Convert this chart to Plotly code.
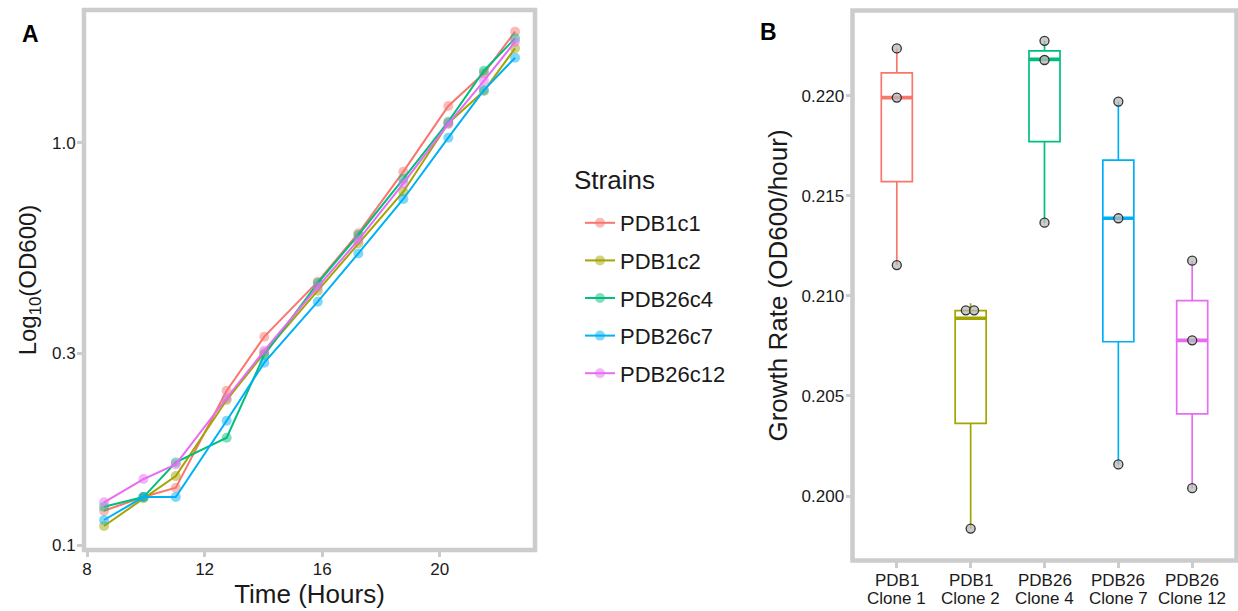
import plotly.graph_objects as go

# ---------------- Panel A data ----------------
time_hours = [8.58, 9.92, 11.02, 12.75, 14.03, 15.85, 17.23, 18.76, 20.29, 21.50, 22.56]
strains = ["PDB1c1", "PDB1c2", "PDB26c4", "PDB26c7", "PDB26c12"]
od_PDB1c1 = [0.1217, 0.1316, 0.1388, 0.2420, 0.3298, 0.4519, 0.5963, 0.8485, 1.236, 1.491, 1.892]
od_PDB1c2 = [0.1115, 0.1307, 0.1484, 0.2294, 0.3004, 0.4292, 0.5630, 0.7566, 1.120, 1.347, 1.720]
od_PDB26c4 = [0.1245, 0.1316, 0.1605, 0.1849, 0.2970, 0.4485, 0.5904, 0.8137, 1.130, 1.513, 1.821]
od_PDB26c7 = [0.1154, 0.1316, 0.1316, 0.2038, 0.2842, 0.4030, 0.5314, 0.7256, 1.031, 1.354, 1.630]
od_PDB26c12 = [0.1277, 0.1459, 0.1587, 0.2321, 0.3043, 0.4384, 0.5737, 0.7940, 1.115, 1.427, 1.786]
od_series = [od_PDB1c1, od_PDB1c2, od_PDB26c4, od_PDB26c7, od_PDB26c12]
colors = ["#F8766D", "#A3A500", "#00BF7D", "#00B0F6", "#E76BF3"]

x_ticks_A = [8, 12, 16, 20]
y_ticks_A = [0.1, 0.3, 1.0]
y_ticktext_A = ["0.1", "0.3", "1.0"]

# ---------------- Panel B data ----------------
clone_line1 = ["PDB1", "PDB1", "PDB26", "PDB26", "PDB26"]
clone_line2 = ["Clone 1", "Clone 2", "Clone 4", "Clone 7", "Clone 12"]
box_q1 = [0.21571, 0.20363, 0.21771, 0.20771, 0.20410]
box_median = [0.21991, 0.20888, 0.22182, 0.21388, 0.20778]
box_q3 = [0.22115, 0.20926, 0.22225, 0.21679, 0.20976]
box_lower = [0.21154, 0.19837, 0.21366, 0.20158, 0.20039]
box_upper = [0.22237, 0.20963, 0.22275, 0.21971, 0.21176]
point_group = [0, 0, 0, 1, 1, 1, 2, 2, 2, 3, 3, 3, 4, 4, 4]
point_rate = [0.22237, 0.21991, 0.21154,
              0.20928, 0.20928, 0.19837,
              0.22275, 0.22179, 0.21366,
              0.21971, 0.21388, 0.20158,
              0.21176, 0.20778, 0.20039]
point_jitter = [0, 0, 0, -0.065, 0.047, 0, 0, 0, 0, 0, 0, 0, 0, 0, 0]
y_ticks_B = [0.200, 0.205, 0.210, 0.215, 0.220]
y_ticktext_B = ["0.200", "0.205", "0.210", "0.215", "0.220"]

# ---------------- layout helpers ----------------
W, H = 1238, 611
FONT = "Liberation Sans, Arial, Helvetica, sans-serif"
BORDER = "#CCCCCC"
TXT = "#1a1a1a"


def dx(p):
    return p / W


def dy(p):
    return 1 - p / H


fig = go.Figure()

for name, ys, c in zip(strains, od_series, colors):
    fig.add_trace(go.Scatter(
        x=time_hours, y=ys, name=name, legendgroup=name,
        mode="lines+markers",
        line=dict(color=c, width=2),
        marker=dict(color=c, size=10, opacity=0.5),
        xaxis="x", yaxis="y",
    ))

BOX_W = 0.42
for i in range(len(clone_line1)):
    fig.add_trace(go.Box(
        x=[i], q1=[box_q1[i]], median=[box_median[i]], q3=[box_q3[i]],
        lowerfence=[box_lower[i]], upperfence=[box_upper[i]],
        orientation="v", width=BOX_W, boxpoints=False, whiskerwidth=0,
        line=dict(color=colors[i], width=1.7),
        fillcolor="rgba(255,255,255,0)",
        showlegend=False, xaxis="x2", yaxis="y2",
    ))
    fig.add_trace(go.Scatter(
        x=[i - BOX_W / 2, i + BOX_W / 2], y=[box_median[i], box_median[i]],
        mode="lines", line=dict(color=colors[i], width=3.6),
        showlegend=False, hoverinfo="skip", xaxis="x2", yaxis="y2",
    ))

fig.add_trace(go.Scatter(
    x=[g + j for g, j in zip(point_group, point_jitter)], y=point_rate,
    mode="markers",
    marker=dict(size=9, color="rgba(185,185,185,0.75)",
                line=dict(color="#333333", width=1.3)),
    showlegend=False, xaxis="x2", yaxis="y2",
))

tick_common = dict(ticks="outside", ticklen=6, tickwidth=2.5, tickcolor=BORDER,
                   showgrid=False, zeroline=False, showline=False,
                   tickfont=dict(family=FONT, size=17, color=TXT),
                   ticklabelstandoff=-2,
                   automargin=False)

fig.update_layout(
    width=W, height=H,
    margin=dict(l=0, r=0, t=0, b=0),
    paper_bgcolor="white", plot_bgcolor="white",
    font=dict(family=FONT, color=TXT),
    xaxis=dict(domain=[dx(84), dx(535)], range=[7.898, 23.238],
               tickvals=x_ticks_A, anchor="y",
               title=dict(text="Time (Hours)", font=dict(size=26, family=FONT, color=TXT), standoff=4),
               **tick_common),
    yaxis=dict(domain=[dy(550), dy(10)], type="log", range=[-1.0124, 0.3308],
               tickvals=y_ticks_A, ticktext=y_ticktext_A, anchor="x",
               title=dict(text="Log<sub>10</sub>(OD600)", font=dict(size=24, family=FONT, color=TXT), standoff=8),
               **tick_common),
    xaxis2=dict(domain=[dx(852.5), dx(1236.5)], range=[-0.6, 4.6],
                tickvals=list(range(len(clone_line1))), showticklabels=False,
                anchor="y2", **{k: v for k, v in tick_common.items() if k != "ticklabelstandoff"}),
    yaxis2=dict(domain=[dy(560.5), dy(10.5)], range=[0.196777, 0.224263],
                tickvals=y_ticks_B, ticktext=y_ticktext_B, anchor="x2",
                title=dict(text="Growth Rate (OD600/hour)", font=dict(size=26, family=FONT, color=TXT), standoff=6),
                **tick_common),
    legend=dict(x=dx(580), y=dy(202), xanchor="left", yanchor="top",
                font=dict(size=22, family=FONT, color=TXT),
                tracegroupgap=6, bgcolor="rgba(0,0,0,0)"),
    showlegend=True,
)

for xa, ya in (("x", "y"), ("x2", "y2")):
    fig.add_shape(type="rect", xref=f"{xa} domain", yref=f"{ya} domain",
                  x0=0, x1=1, y0=0, y1=1, line=dict(color=BORDER, width=4.5),
                  fillcolor="rgba(0,0,0,0)", layer="above")

# legend title
fig.add_annotation(text="Strains", x=dx(572), y=dy(180), xref="paper", yref="paper",
                   xanchor="left", yanchor="middle", showarrow=False,
                   font=dict(size=26, family=FONT, color=TXT))

# two-line category labels for panel B
for i in range(len(clone_line1)):
    fig.add_annotation(text=clone_line1[i], x=i, xref="x2", y=dy(580), yref="paper",
                       yanchor="middle", showarrow=False,
                       font=dict(size=17, family=FONT, color=TXT))
    fig.add_annotation(text=clone_line2[i], x=i, xref="x2", y=dy(598), yref="paper",
                       yanchor="middle", showarrow=False,
                       font=dict(size=17, family=FONT, color=TXT))

fig.add_annotation(text="<b>A</b>", x=dx(20), y=dy(19), xref="paper", yref="paper",
                   showarrow=False, font=dict(size=23, family=FONT, color="black"))
fig.add_annotation(text="<b>B</b>", x=dx(768), y=dy(17), xref="paper", yref="paper",
                   showarrow=False, font=dict(size=23, family=FONT, color="black"))

fig.write_html("out.html")
